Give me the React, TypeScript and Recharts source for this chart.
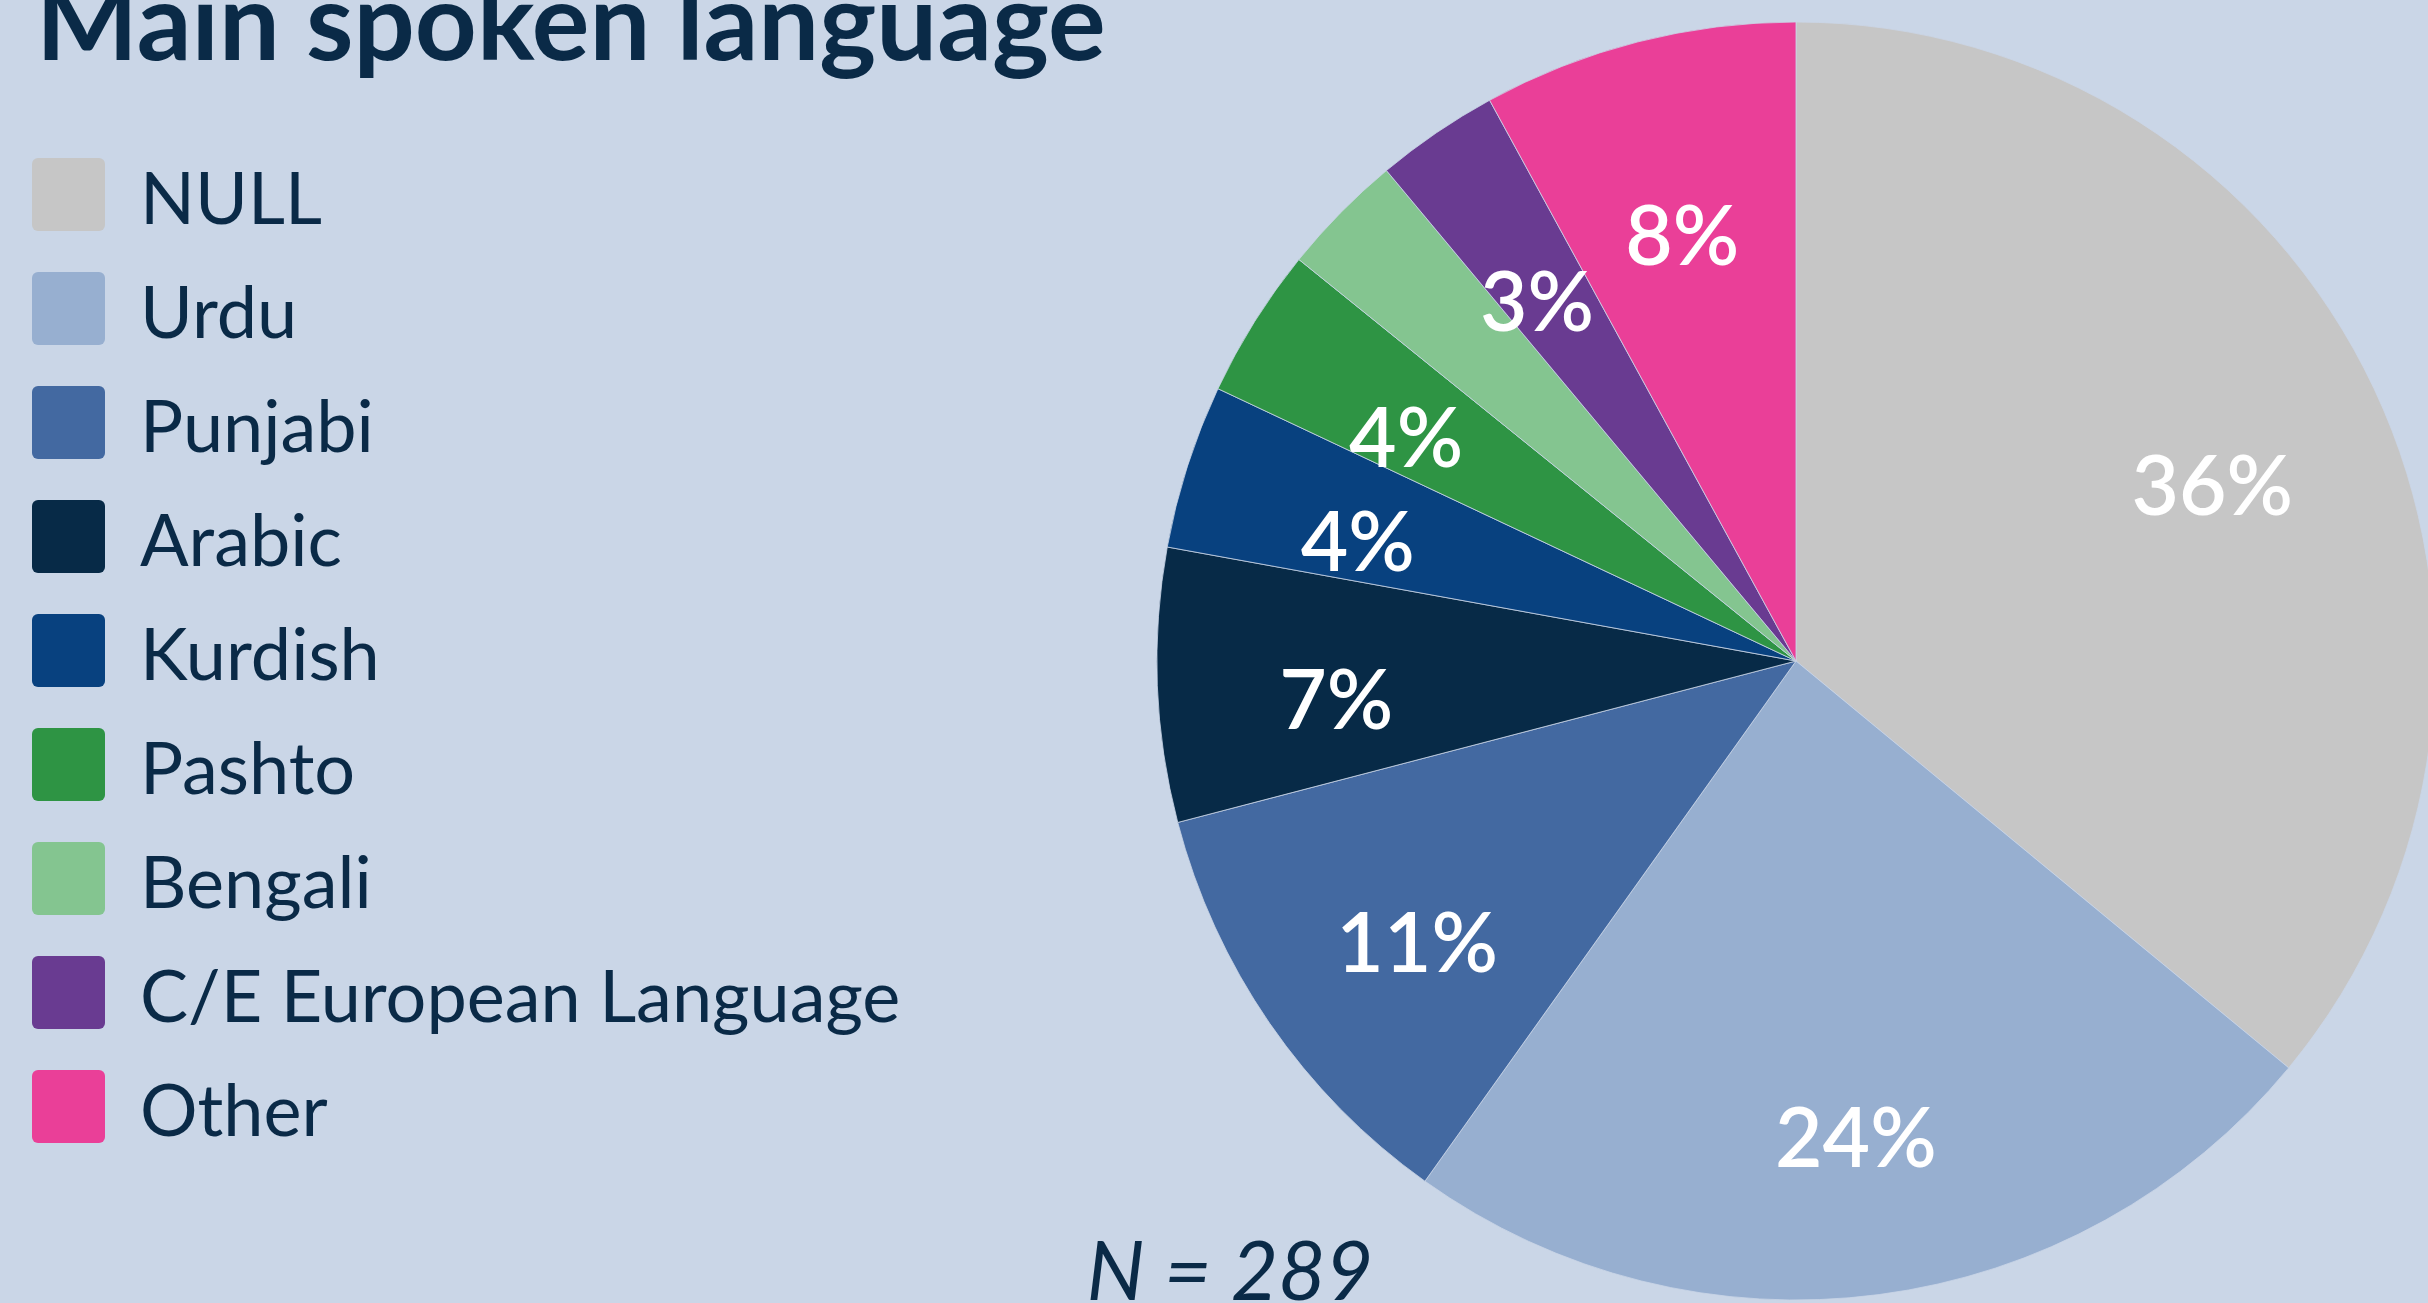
import { Cell, Legend, Pie, PieChart } from "recharts";

const languages = [
  "NULL",
  "Urdu",
  "Punjabi",
  "Arabic",
  "Kurdish",
  "Pashto",
  "Bengali",
  "C/E European Language",
  "Other",
];
// respondent counts, N = 289
const counts = [104, 69, 32, 20, 12, 11, 9, 9, 23];
const sliceLabels = ["36%", "24%", "11%", "7%", "4%", "4%", "", "3%", "8%"];
const colours = [
  "#c6c6c6",
  "#97afd0",
  "#4369a1",
  "#072a47",
  "#08417f",
  "#2e9444",
  "#84c590",
  "#693b91",
  "#ea3f98",
];

const BG = "#cad6e7";
const INK = "#0a2a47";
const FONT = "Lato, 'Noto Sans', sans-serif";

const data = languages.map((name, i) => ({ name, value: counts[i] }));

const RAD = Math.PI / 180;

function renderLabel(props: any) {
  const { cx, cy, midAngle, outerRadius, index } = props;
  const text = sliceLabels[index];
  if (!text) return null;
  const r = outerRadius * 0.72;
  const x = cx + r * Math.cos(-midAngle * RAD);
  const y = cy + r * Math.sin(-midAngle * RAD) + 18;
  return (
    <text
      x={x}
      y={y}
      fill="#ffffff"
      textAnchor="middle"
      dominantBaseline="central"
      fontFamily={FONT}
      fontWeight={600}
      fontSize={82}
    >
      {text}
    </text>
  );
}

function renderLegend(props: any) {
  const payload = [...(props.payload ?? [])].sort(
    (a: any, b: any) => languages.indexOf(a.value) - languages.indexOf(b.value)
  );
  return (
    <div>
      {payload.map((entry: any) => (
        <div
          key={entry.value}
          style={{ display: "flex", alignItems: "center", height: 114 }}
        >
          <div
            style={{
              width: 73,
              height: 73,
              borderRadius: 6,
              background: colours[languages.indexOf(entry.value)],
              marginLeft: 32,
              marginRight: 35,
            }}
          />
          <span
            style={{
              fontFamily: FONT,
              fontSize: 72,
              color: INK,
              paddingTop: 3,
              whiteSpace: "nowrap",
            }}
          >
            {entry.value}
          </span>
        </div>
      ))}
    </div>
  );
}

export default function App() {
  return (
    <div
      style={{
        position: "absolute",
        left: 0,
        top: 0,
        width: 2428,
        height: 1303,
        overflow: "hidden",
        background: BG,
      }}
    >
      <PieChart width={2428} height={1303} margin={{ top: 0, right: 0, bottom: 0, left: 0 }}>
        <Pie
          data={data}
          dataKey="value"
          nameKey="name"
          cx={1796}
          cy={661}
          outerRadius={639}
          startAngle={90}
          endAngle={-270}
          stroke={BG}
          strokeWidth={0.8}
          label={renderLabel}
          labelLine={false}
          isAnimationActive={false}
        >
          {data.map((d, i) => (
            <Cell key={d.name} fill={colours[i]} />
          ))}
        </Pie>
        <Legend
          layout="vertical"
          align="center"
          verticalAlign="middle"
          content={renderLegend}
          wrapperStyle={{ left: 0, top: 137, width: 1000, height: 1030 }}
        />
      </PieChart>
      <svg
        width={2428}
        height={1303}
        style={{ position: "absolute", left: 0, top: 0, pointerEvents: "none" }}
      >
        <text x={36} y={60} fontFamily={FONT} fontWeight={700} fontSize={108} fill={INK}>
          Main spoken language
        </text>
        <text
          x={1230}
          y={1300}
          textAnchor="middle"
          fontFamily={FONT}
          fontStyle="italic"
          fontSize={82}
          fill={INK}
        >
          N = 289
        </text>
      </svg>
    </div>
  );
}
